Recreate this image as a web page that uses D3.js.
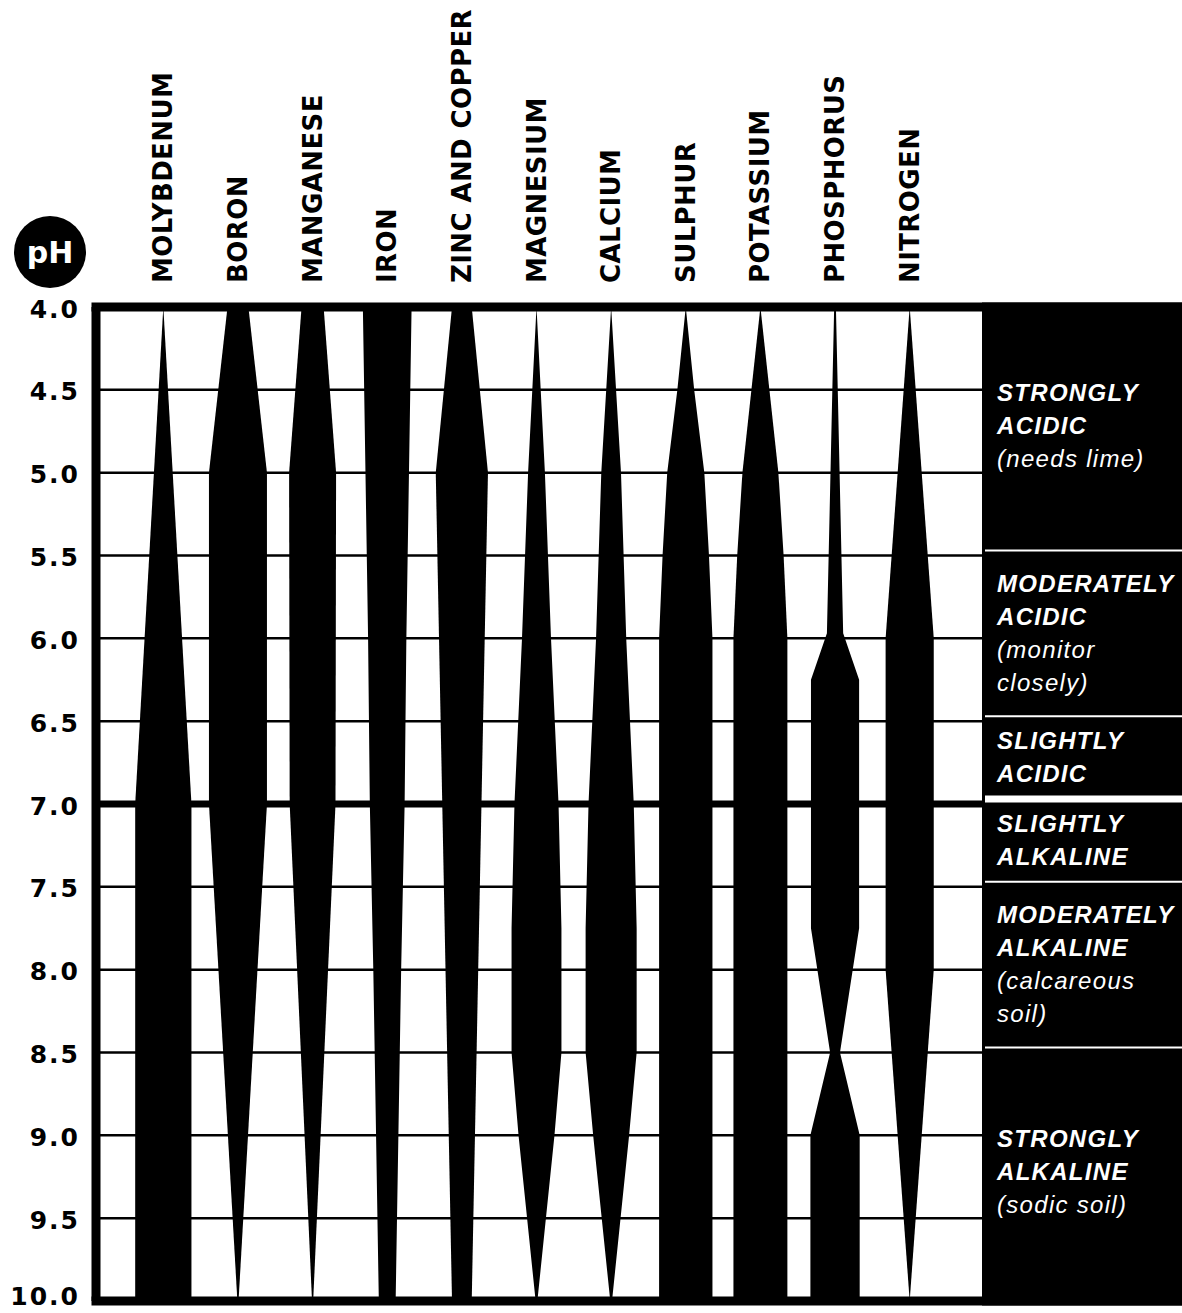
<!DOCTYPE html>
<html>
<head>
<meta charset="utf-8">
<script src="https://cdn.jsdelivr.net/npm/d3@7"></script>
<style>
  body { margin: 0; background: #fff; }
  svg { display: block; }
</style>
</head>
<body>
<svg width="1182" height="1313"></svg>
<script>

// nutrients, left to right
var nutrients = ["MOLYBDENUM", "BORON", "MANGANESE", "IRON", "ZINC AND COPPER",
  "MAGNESIUM", "CALCIUM", "SULPHUR", "POTASSIUM", "PHOSPHORUS", "NITROGEN"];

var phTicks = [4.0, 4.5, 5.0, 5.5, 6.0, 6.5, 7.0, 7.5, 8.0, 8.5, 9.0, 9.5, 10.0];

// availability profiles: [pH, relative availability %]
var molybdenum = [[4, 0], [7, 97], [10, 97]];
var boron      = [[4, 36], [5, 100], [7, 100], [10, 2]];
var manganese  = [[4, 38], [5, 81], [7, 79], [10, 2]];
var iron       = [[4, 84], [6, 66], [7, 60], [8, 48], [10, 29]];
var zinc       = [[4, 34], [5, 90], [10, 34]];
var magnesium  = [[4, 0], [5, 29], [6, 50], [7, 76], [7.75, 86], [8.5, 86], [9, 62], [10, 3]];
var calcium    = [[4, 0], [5, 34], [6, 52], [7, 78], [7.75, 88], [8.5, 88], [9, 62], [10, 3]];
var sulphur    = [[4, 0], [4.5, 29], [5, 64], [5.5, 80], [6, 92], [10, 92]];
var potassium  = [[4, 0], [4.5, 31], [5, 62], [5.5, 80], [6, 93], [10, 93]];
var phosphorus = [[4, 3], [5.97, 28], [6.25, 83], [7.75, 83], [8.5, 17], [9, 85], [10, 85]];
var nitrogen   = [[4, 0], [6, 83], [8, 83], [10, 0]];

var profiles = [molybdenum, boron, manganese, iron, zinc, magnesium,
  calcium, sulphur, potassium, phosphorus, nitrogen];

// soil classes on the right
var bandEdges = [4, 5.5, 6.5, 7, 7.5, 8.5, 10];
var bandLabels = [
  ["STRONGLY", "ACIDIC", "(needs lime)"],
  ["MODERATELY", "ACIDIC", "(monitor", "closely)"],
  ["SLIGHTLY", "ACIDIC"],
  ["SLIGHTLY", "ALKALINE"],
  ["MODERATELY", "ALKALINE", "(calcareous", "soil)"],
  ["STRONGLY", "ALKALINE", "(sodic soil)"]
];

var svg = d3.select("svg");

var left = 96, right = 982, frameW = 9;

var y = d3.scaleLinear().domain([4, 10]).range([307, 1301]);
var x = d3.scaleBand().domain(nutrients).range([126, 947]);
var w = d3.scaleLinear().domain([0, 100]).range([0, 58]);

function cx(n) { return x(n) + x.bandwidth() / 2; }

// white plotting area
svg.append("rect")
  .attr("x", left).attr("y", y(4))
  .attr("width", right - left).attr("height", y(10) - y(4))
  .attr("fill", "#fff");

// grid lines
svg.append("g").selectAll("line")
  .data(phTicks.filter(function(d) { return d > 4 && d < 10; }))
  .enter().append("line")
    .attr("x1", left).attr("x2", right)
    .attr("y1", function(d) { return y(d); })
    .attr("y2", function(d) { return y(d); })
    .attr("stroke", "#000")
    .attr("stroke-width", function(d) { return d == 7 ? 7 : 2.5; });

// nutrient shapes
var area = d3.area()
  .y(function(d) { return y(d[0]); });

svg.append("g").selectAll("path")
  .data(profiles)
  .enter().append("path")
    .attr("fill", "#000")
    .attr("d", function(p, i) {
      var c = cx(nutrients[i]);
      return area
        .x0(function(d) { return c - w(d[1]) / 2; })
        .x1(function(d) { return c + w(d[1]) / 2; })(p);
    });

// right panel
svg.append("rect")
  .attr("x", right).attr("y", y(4) - frameW / 2)
  .attr("width", 1182 - right).attr("height", y(10) - y(4) + frameW)
  .attr("fill", "#000");

svg.append("g").selectAll("line")
  .data(bandEdges.slice(1, -1))
  .enter().append("line")
    .attr("x1", right + 3).attr("x2", 1182)
    .attr("y1", function(d) { return y(d) - 5; })
    .attr("y2", function(d) { return y(d) - 5; })
    .attr("stroke", "#fff")
    .attr("stroke-width", function(d) { return d == 7 ? 7 : 2; });

var lineH = 33;
var bands = svg.append("g").selectAll("text")
  .data(bandLabels)
  .enter().append("text")
    .attr("fill", "#fff")
    .style("font-family", "'Liberation Sans', Arial, sans-serif")
    .style("font-size", "24px")
    .style("font-style", "italic")
    .style("letter-spacing", "1.3px");

bands.each(function(lines, i) {
  var mid = (y(bandEdges[i]) + y(bandEdges[i + 1])) / 2;
  var first = mid + 3 - (lines.length - 1) * lineH / 2;
  d3.select(this).selectAll("tspan")
    .data(lines)
    .enter().append("tspan")
      .attr("x", 997)
      .attr("y", function(d, j) { return first + j * lineH; })
      .style("font-weight", function(d) { return d.charAt(0) == "(" || d.slice(-1) == ")" ? "normal" : "bold"; })
      .text(function(d) { return d; });
});

// frame
svg.append("line")
  .attr("x1", left - frameW / 2).attr("x2", 1182)
  .attr("y1", y(4)).attr("y2", y(4))
  .attr("stroke", "#000").attr("stroke-width", frameW);
svg.append("line")
  .attr("x1", left - frameW / 2).attr("x2", 1182)
  .attr("y1", y(10)).attr("y2", y(10))
  .attr("stroke", "#000").attr("stroke-width", frameW);
svg.append("line")
  .attr("x1", left).attr("x2", left)
  .attr("y1", y(4)).attr("y2", y(10))
  .attr("stroke", "#000").attr("stroke-width", frameW);

// pH axis labels
var yAxis = d3.axisLeft(y)
  .tickValues(phTicks)
  .tickFormat(d3.format(".1f"))
  .tickSize(0)
  .tickPadding(16);

var ag = svg.append("g")
  .attr("transform", "translate(" + left + ",0)")
  .call(yAxis);
ag.select(".domain").remove();
ag.selectAll("text")
  .attr("fill", "#000")
  .attr("dy", function(d) { return d == 10 ? "0.12em" : "0.4em"; })
  .style("font-family", "'DejaVu Sans', sans-serif")
  .style("font-weight", "bold")
  .style("font-size", "25px")
  .style("letter-spacing", "2px");

// column headings
svg.append("g").selectAll("text")
  .data(nutrients)
  .enter().append("text")
    .attr("transform", function(d) { return "translate(" + (cx(d) + 9) + ",283) rotate(-90)"; })
    .attr("fill", "#000")
    .style("font-family", "'DejaVu Sans', sans-serif")
    .style("font-weight", "bold")
    .style("font-size", "26px")
    .style("letter-spacing", "0.4px")
    .text(function(d) { return d; });

// pH badge
svg.append("circle")
  .attr("cx", 50).attr("cy", 252).attr("r", 36)
  .attr("fill", "#000");
svg.append("text")
  .attr("x", 50).attr("y", 263)
  .attr("text-anchor", "middle")
  .attr("fill", "#fff")
  .style("font-family", "'DejaVu Sans', sans-serif")
  .style("font-weight", "bold")
  .style("font-size", "30px")
  .text("pH");

</script>
</body>
</html>
